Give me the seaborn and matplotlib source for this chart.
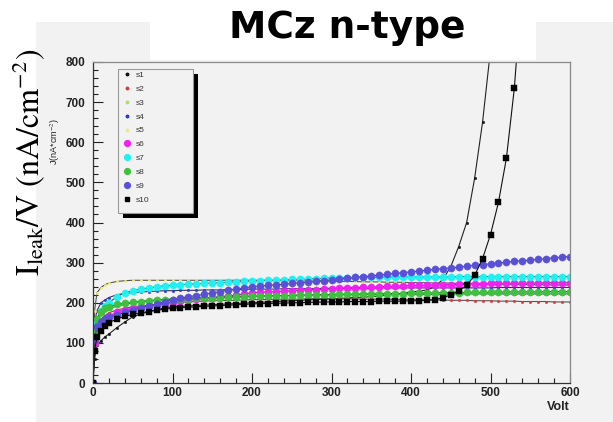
import numpy as np
import pandas as pd
import matplotlib
matplotlib.use("Agg")
import matplotlib.pyplot as plt
from matplotlib.patches import Rectangle
from matplotlib.lines import Line2D
from matplotlib.ticker import MultipleLocator
import seaborn as sns

nan = np.nan
# ---------------- data ----------------
volts = [0, 2, 5, 10, 15, 20, 30, 40, 50, 60, 70, 80, 90,
         100, 110, 120, 130, 140, 150, 160, 170, 180, 190, 200,
         210, 220, 230, 240, 250, 260, 270, 280, 290, 300,
         310, 320, 330, 340, 350, 360, 370, 380, 390, 400,
         410, 420, 430, 440, 450, 460, 470, 480, 490, 500,
         510, 520, 530, 540, 550, 560, 570, 580, 590, 600]

s1 = [0, 60, 95, 105, 115, 122, 138, 152, 165, 172, 178, 183, 187,
      190, 191, 192, 193, 194, 195, 196, 197, 198, 199, 200,
      201, 202, 203, 204, 205, 206, 207, 208, 209, 210,
      211, 212, 213, 214, 215, 217, 219, 221, 224, 227,
      229, 232, 240, 258, 290, 340, 400, 510, 650, 830,
      nan, nan, nan, nan, nan, nan, nan, nan, nan, nan]
s2 = [0, 110, 140, 160, 168, 175, 182, 186, 190, 192, 194, 196, 198,
      200, 201, 202, 203, 204, 205, 205, 206, 206, 207, 208,
      208, 208, 209, 209, 209, 209, 210, 210, 210, 210,
      210, 210, 210, 209, 209, 209, 209, 208, 208, 208,
      208, 207, 207, 207, 206, 206, 206, 205, 205, 205,
      204, 204, 204, 203, 203, 203, 203, 202, 202, 202]
s3 = [0, 120, 150, 170, 180, 185, 192, 196, 200, 203, 205, 207, 208,
      210, 211, 211, 212, 213, 213, 214, 215, 215, 216, 217,
      217, 217, 218, 218, 218, 219, 219, 219, 220, 220,
      220, 220, 220, 220, 221, 221, 221, 221, 221, 221,
      221, 221, 221, 221, 222, 222, 222, 222, 222, 222,
      222, 222, 222, 222, 222, 222, 222, 222, 222, 222]
s4 = [0, 150, 180, 200, 207, 213, 220, 223, 225, 227, 228, 229, 230,
      230, 231, 231, 231, 232, 232, 232, 233, 233, 233, 234,
      234, 234, 234, 235, 235, 235, 235, 235, 236, 236,
      236, 236, 236, 236, 236, 237, 237, 237, 237, 237,
      237, 237, 237, 237, 237, 237, 237, 237, 237, 237,
      238, 238, 238, 238, 238, 238, 238, 238, 238, 238]
s5 = [0, 180, 225, 238, 245, 249, 253, 255, 256, 256, 256, 256, 256,
      256, 256, 256, 256, 256, 256, 256, 256, 256, 256, 256,
      256, 256, 255, 255, 255, 255, 254, 254, 254, 254,
      253, 253, 253, 252, 252, 252, 251, 251, 251, 250,
      250, 250, 249, 249, 249, 248, 248, 248, 247, 247,
      247, 246, 246, 246, 245, 245, 245, 244, 244, 244]
s6 = [0, 100, 130, 150, 160, 167, 176, 182, 186, 189, 192, 195, 198,
      203, 205, 207, 209, 211, 213, 215, 217, 219, 222, 225,
      226, 227, 228, 229, 230, 231, 232, 233, 234, 235,
      236, 237, 238, 239, 239, 240, 241, 241, 242, 243,
      243, 244, 244, 245, 245, 246, 246, 247, 247, 248,
      248, 248, 249, 249, 249, 249, 250, 250, 250, 250]
s7 = [0, 120, 152, 180, 192, 200, 215, 225, 230, 234, 237, 240, 242,
      244, 245, 246, 247, 248, 249, 250, 251, 252, 253, 254,
      255, 256, 256, 257, 258, 258, 259, 260, 261, 262,
      262, 262, 263, 263, 263, 263, 264, 264, 264, 264,
      264, 264, 264, 264, 264, 265, 265, 265, 265, 265,
      265, 265, 265, 265, 265, 265, 265, 265, 265, 265]
s8 = [0, 130, 160, 178, 186, 190, 196, 199, 201, 203, 205, 206, 207,
      208, 209, 210, 211, 211, 212, 213, 214, 214, 215, 216,
      216, 217, 217, 218, 218, 219, 219, 220, 220, 220,
      221, 221, 221, 222, 222, 222, 223, 223, 223, 224,
      224, 224, 225, 225, 225, 225, 226, 226, 226, 226,
      226, 227, 227, 227, 227, 227, 228, 228, 228, 228]
s9 = [0, 110, 140, 152, 160, 165, 170, 176, 182, 187, 192, 197, 203,
      208, 212, 215, 218, 221, 224, 228, 231, 234, 237, 240,
      242, 243, 245, 246, 248, 250, 251, 253, 255, 257,
      259, 261, 263, 265, 267, 269, 271, 273, 275, 277,
      279, 281, 283, 285, 287, 289, 291, 293, 295, 297,
      299, 301, 303, 305, 306, 308, 310, 312, 314, 315]
s10 = [0, 80, 115, 130, 142, 150, 160, 166, 171, 175, 178, 181, 184,
       186, 188, 189, 190, 191, 192, 193, 194, 195, 196, 197,
       198, 198, 199, 199, 200, 200, 201, 201, 202, 202,
       202, 203, 203, 203, 203, 204, 204, 204, 204, 205,
       205, 206, 208, 212, 220, 230, 243, 268, 310, 370,
       450, 560, 735, 1000, nan, nan, nan, nan, nan, nan]

labels = ["s1", "s2", "s3", "s4", "s5", "s6", "s7", "s8", "s9", "s10"]
series = [s1, s2, s3, s4, s5, s6, s7, s8, s9, s10]
marker_colors = ["#111111", "#e03535", "#a8e070", "#2838c8", "#ecec80",
                 "#f020f0", "#20f0f0", "#40c040", "#5a50d8", "#000000"]
markers = ["o", "o", "o", "o", "o", "o", "o", "o", "o", "s"]
marker_sizes = [1.8, 1.8, 1.8, 1.8, 1.8, 5.2, 5.2, 5.2, 5.2, 4.0]
line_colors = ["#222222", "#555555", "#555555", "#333366", "#555555",
               "#444444", "#444444", "#444444", "#444444", "#111111"]

# ---------------- style ----------------
sns.set_style("ticks")
plt.rcParams["font.family"] = ["Liberation Sans", "DejaVu Sans"]
plt.rcParams["mathtext.fontset"] = "stix"

W, H = 613, 422
fig = plt.figure(figsize=(W / 100, H / 100), dpi=100)
fig.patch.set_facecolor("white")
panel = "#f2f2f2"
fig.patches.append(Rectangle((36 / W, 0), 1 - 36 / W, (H - 22) / H,
                             transform=fig.transFigure, facecolor=panel,
                             edgecolor="none", zorder=-10))
fig.patches.append(Rectangle((150 / W, (H - 60) / H), 386 / W, 60 / H,
                             transform=fig.transFigure, facecolor="white",
                             edgecolor="none", zorder=-9))

ax = fig.add_axes([93 / W, (H - 383) / H, 477 / W, 321 / H])
ax.set_facecolor(panel)

for lab, vals, mc, mk, ms, lc in zip(labels, series, marker_colors, markers,
                                      marker_sizes, line_colors):
    df = pd.DataFrame({"V": volts, "J": vals}).dropna()
    sns.lineplot(data=df, x="V", y="J", ax=ax, color=lc, linewidth=0.8,
                 marker=mk, markersize=ms, markerfacecolor=mc,
                 markeredgecolor=mc, markeredgewidth=0.3,
                 estimator=None, sort=False, legend=False)

ax.set_xlim(0, 600)
ax.set_ylim(0, 800)
ax.xaxis.set_major_locator(MultipleLocator(100))
ax.xaxis.set_minor_locator(MultipleLocator(20))
ax.yaxis.set_major_locator(MultipleLocator(100))
ax.yaxis.set_minor_locator(MultipleLocator(20))
ax.tick_params(which="both", direction="in", color="#222222", width=0.8)
ax.tick_params(which="major", length=7)
ax.tick_params(which="minor", length=3.5)
ax.tick_params(axis="y", which="major", pad=5.5)
ax.tick_params(axis="x", which="major", pad=3)
for lbl in ax.get_xticklabels() + ax.get_yticklabels():
    lbl.set_fontweight("bold")
    lbl.set_fontsize(8.5)
    lbl.set_color("#222222")

for side in ["left", "bottom"]:
    ax.spines[side].set_color("#333333")
    ax.spines[side].set_linewidth(0.9)
for side in ["top", "right"]:
    ax.spines[side].set_visible(True)
    ax.spines[side].set_color("#888888")
    ax.spines[side].set_linewidth(0.9)

ax.set_xlabel("Volt", fontsize=9, fontweight="bold", color="#222222")
ax.xaxis.set_label_coords(1.0, -0.075)
ax.xaxis.label.set_ha("right")
ax.xaxis.label.set_va("center")

ax.set_ylabel(r"J(nA*cm$^{-2}$)", fontsize=6.5, color="#222222")
ax.yaxis.set_label_coords(-0.078, 0.75)
ax.yaxis.label.set_va("center")

# legend box with shadow
x0, x1 = 0.0524, 0.2096
y0, y1 = 0.5296, 0.978
dx, dy = 5 / 477, 5 / 321
ax.add_patch(Rectangle((x0 + dx, y0 - dy), x1 - x0, y1 - y0, transform=ax.transAxes,
                       facecolor="black", edgecolor="none", zorder=8))
ax.add_patch(Rectangle((x0, y0), x1 - x0, y1 - y0, transform=ax.transAxes,
                       facecolor=panel, edgecolor="#999999", linewidth=0.8, zorder=9))
handles = [Line2D([], [], linestyle="none", marker=mk, markersize=(ms if ms < 3 else ms * 0.8),
                  markerfacecolor=mc, markeredgecolor=mc)
           for mk, ms, mc in zip(markers, marker_sizes, marker_colors)]
leg = ax.legend(handles, labels, loc="upper left", bbox_to_anchor=(0.066, 0.972),
                frameon=False, fontsize=6, labelspacing=0.73, handlelength=0.6,
                handletextpad=0.7, borderaxespad=0, borderpad=0)
leg.set_zorder(10)
for t in leg.get_texts():
    t.set_color("#333333")

# titles
fig.text(347 / W, 1 - 28 / H, "MCz n-type", ha="center", va="center",
         fontsize=27, fontweight="bold", family="DejaVu Sans", color="black")
fig.text(29 / W, 1 - 162 / H, r"$\mathrm{I_{leak}/V\ (nA/cm^{-2})}$",
         rotation=90, ha="center", va="center", fontsize=23, color="black")

fig.savefig("out.png", dpi=100)
